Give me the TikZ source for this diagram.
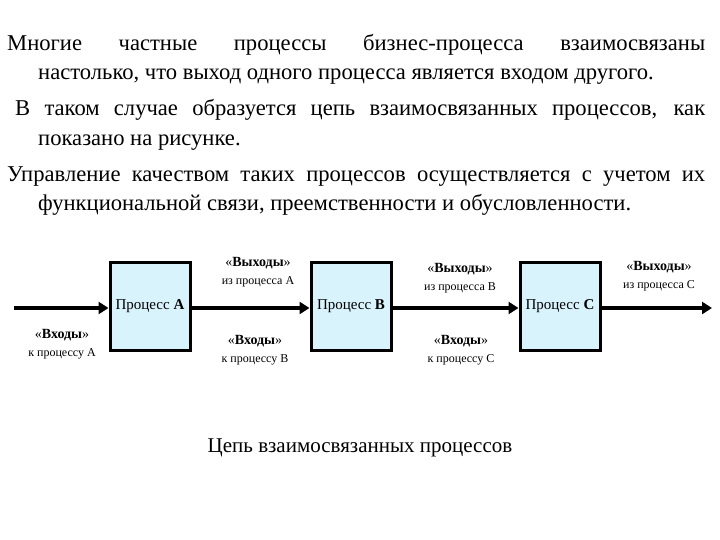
\documentclass[tikz,border=0pt]{standalone}
\usepackage{fontspec}
\setmainfont{Liberation Serif}
\usetikzlibrary{arrows.meta}
\begin{document}
\begin{tikzpicture}[x=1pt,y=-1pt,
  proc/.style={draw,line width=3pt,fill=cyan!15,minimum width=80pt,minimum height=88pt,inner sep=0pt},
  flow/.style={line width=4pt,-{Triangle[length=10pt,width=12pt]}},
  lbl/.style={align=center,font=\fontsize{14}{15}\selectfont,inner sep=0pt}]
\useasboundingbox (0,0) rectangle (720,540);
\node[anchor=north west,inner sep=0pt,text width=698pt,align=justify,font=\fontsize{22.6}{29.5}\selectfont] (txt) at (7,34) {%
\everypar{\hangindent=31pt\hangafter=1}\parskip=6.5pt
\hangindent=31pt\hangafter=1
Многие частные процессы бизнес-процесса взаимосвязаны\linebreak настолько, что выход одного процесса является входом другого.\par
\hspace*{8pt}В таком случае образуется цепь взаимосвязанных процессов, как\linebreak показано на рисунке.\par
Управление качеством таких процессов осуществляется с учетом их\linebreak функциональной связи, преемственности и обусловленности.\par};
\node[proc] (A) at (150,306) {};
\node[proc] (B) at (351,306) {};
\node[proc] (C) at (560,306) {};
\node[font=\fontsize{15}{16}\selectfont] (tA) at (150,306) {Процесс \textbf{A}};
\node[font=\fontsize{15}{16}\selectfont] (tB) at (351,306) {Процесс \textbf{B}};
\node[font=\fontsize{15}{16}\selectfont] (tC) at (560,306) {Процесс \textbf{C}};
\coordinate (s) at (14,308);
\coordinate (e) at (712,308);
\draw[flow] (s) -- (A.west|-s);
\draw[flow] (A.east|-s) -- (B.west|-s);
\draw[flow] (B.east|-s) -- (C.west|-s);
\draw[flow] (C.east|-s) -- (e);
\node[lbl] (o1) at (258,272) {«\textbf{Выходы}»\\[3pt]{\fontsize{12}{13}\selectfont из процесса A}};
\node[lbl] (o2) at (460,278) {«\textbf{Выходы}»\\[3pt]{\fontsize{12}{13}\selectfont из процесса B}};
\node[lbl] (o3) at (659,276) {«\textbf{Выходы}»\\[3pt]{\fontsize{12}{13}\selectfont из процесса C}};
\node[lbl] (i1) at (62,344) {«\textbf{Входы}»\\[3pt]{\fontsize{12}{13}\selectfont к процессу A}};
\node[lbl] (i2) at (255,350) {«\textbf{Входы}»\\[3pt]{\fontsize{12}{13}\selectfont к процессу B}};
\node[lbl] (i3) at (461,350) {«\textbf{Входы}»\\[3pt]{\fontsize{12}{13}\selectfont к процессу C}};
\node[font=\fontsize{21}{22}\selectfont] (cap) at (360,448) {Цепь взаимосвязанных процессов};
\end{tikzpicture}
\end{document}
